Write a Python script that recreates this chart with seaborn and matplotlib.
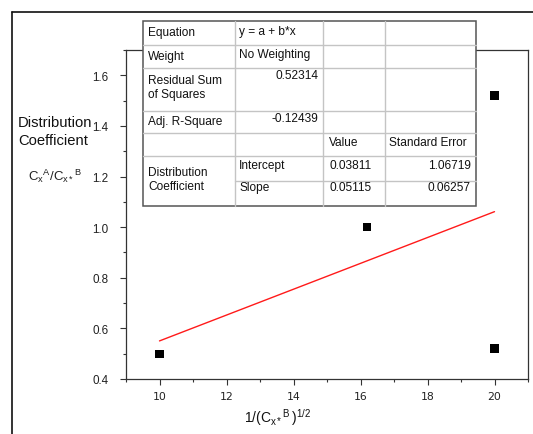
import matplotlib
matplotlib.use("Agg")
import matplotlib.pyplot as plt
import seaborn as sns
import pandas as pd
from matplotlib.lines import Line2D
from matplotlib.patches import Rectangle
from matplotlib.ticker import MultipleLocator

# ---- data ----
x_vals = [10.0, 16.2, 20.0, 20.0]
y_vals = [0.50, 1.00, 1.52, 0.52]
x_ticks = [10, 12, 14, 16, 18, 20]
y_ticks = [0.4, 0.6, 0.8, 1.0, 1.2, 1.4, 1.6]

table_labels = ["Equation", "Weight", "Residual Sum\nof Squares", "Adj. R-Square"]
table_values = ["y = a + b*x", "No Weighting", "0.52314", "-0.12439"]
param_header = ["Value", "Standard Error"]
param_names = ["Intercept", "Slope"]
param_values = ["0.03811", "0.05115"]
param_errors = ["1.06719", "0.06257"]
group_label = "Distribution\nCoefficient"

sns.set_theme(style="white")
plt.rcParams["font.family"] = ["Liberation Sans", "DejaVu Sans"]
plt.rcParams["mathtext.fontset"] = "custom"
plt.rcParams["mathtext.rm"] = "Liberation Sans"
plt.rcParams["mathtext.it"] = "Liberation Sans"

W, H = 533, 435
fig = plt.figure(figsize=(W / 100, H / 100), dpi=100)
fig.patch.set_facecolor("white")

L, R, T, B = 126, 528, 51, 380
ax = fig.add_axes([L / W, 1 - B / H, (R - L) / W, (B - T) / H])
df = pd.DataFrame({"x": x_vals, "y": y_vals})
sns.regplot(data=df, x="x", y="y", ax=ax, ci=None, marker="s",
            scatter_kws=dict(s=36, color="black", edgecolors="none", alpha=1, zorder=3),
            line_kws=dict(color="#ff1a1a", lw=1.0))
ax.set_xlim(9, 21)
ax.set_ylim(0.4, 1.7)
ax.set_xticks(x_ticks)
ax.set_yticks(y_ticks)
ax.set_yticklabels([f"{v:.1f}" for v in y_ticks])
ax.xaxis.set_minor_locator(MultipleLocator(1))
ax.yaxis.set_minor_locator(MultipleLocator(0.1))
ax.tick_params(which="major", direction="out", length=4.5, width=0.8, color="#333333",
               labelcolor="#222222", bottom=True, left=True)
ax.tick_params(axis="x", which="major", pad=4, labelsize=7.8)
ax.tick_params(axis="y", which="major", pad=8, labelsize=8.4)
ax.tick_params(which="minor", direction="out", length=2.5, width=0.8, color="#333333",
               bottom=True, left=True)
for lab in ax.get_xticklabels():
    lab.set_family(["DejaVu Sans"])
ax.set_xlabel("")
ax.set_ylabel("")
for s in ax.spines.values():
    s.set_color("#333333")
    s.set_linewidth(0.9)

# axis titles
fig.text(18 / W, 1 - 132 / H, "Distribution\nCoefficient", fontsize=10.6,
         ha="left", va="center", color="#111111", linespacing=1.42)
fig.text(28 / W, 1 - 176 / H, r"$\mathregular{C_x{}^A/C_{x*}{}^B}$", fontsize=9.5,
         ha="left", va="center", color="#222222")
fig.text(278 / W, 1 - 418 / H, r"$\mathregular{1/(C_{x*}{}^{B}\,)^{1/2}}$", fontsize=10,
         ha="center", va="center", color="#111111")

# overlay for border + table (pixel coordinates)
ov = fig.add_axes([0, 0, 1, 1], zorder=10)
ov.set_xlim(0, W)
ov.set_ylim(H, 0)
ov.axis("off")
ov.patch.set_alpha(0)

# page border
ov.add_line(Line2D([12, 12], [13, H + 2], color="#111111", lw=1.2))
ov.add_line(Line2D([12, W + 2], [13, 13], color="#111111", lw=1.2))

rows = [22, 46, 69, 112, 134, 157, 182, 207]
cols = [143, 235, 323, 385, 476]
ov.add_patch(Rectangle((cols[0], rows[0]), cols[-1] - cols[0], rows[-1] - rows[0],
                       facecolor="white", edgecolor="none"))
inner = "#c4c4c4"
for i, yy in enumerate(rows[1:-1], start=1):
    x0 = cols[0] if i != 6 else cols[1]
    ov.add_line(Line2D([x0, cols[-1]], [yy, yy], color=inner, lw=1.0))
for xx in cols[1:-1]:
    ov.add_line(Line2D([xx, xx], [rows[0], rows[-1]], color=inner, lw=1.0))
ov.add_patch(Rectangle((cols[0], rows[0]), cols[-1] - cols[0], rows[-1] - rows[0],
                       facecolor="none", edgecolor="#555555", lw=1.1))

fs = 8.6
tc = "#111111"
label_y = [33, 57, 88, 122]
value_y = [32, 55, 76, 119]
for lab, ly in zip(table_labels, label_y):
    ov.text(148, ly, lab, fontsize=fs, ha="left", va="center", color=tc, linespacing=1.3)
ov.text(239, value_y[0], table_values[0], fontsize=fs, ha="left", va="center", color=tc)
ov.text(239, value_y[1], table_values[1], fontsize=fs, ha="left", va="center", color=tc)
ov.text(318, value_y[2], table_values[2], fontsize=fs, ha="right", va="center", color=tc)
ov.text(318, value_y[3], table_values[3], fontsize=fs, ha="right", va="center", color=tc)
ov.text(329, 143, param_header[0], fontsize=fs, ha="left", va="center", color=tc)
ov.text(389, 143, param_header[1], fontsize=fs, ha="left", va="center", color=tc)
ov.text(148, 180, group_label, fontsize=fs, ha="left", va="center", color=tc, linespacing=1.3)
for nm, v, e, yy in zip(param_names, param_values, param_errors, [166, 188]):
    ov.text(239, yy, nm, fontsize=fs, ha="left", va="center", color=tc)
    ov.text(329, yy, v, fontsize=fs, ha="left", va="center", color=tc)
    ov.text(471, yy, e, fontsize=fs, ha="right", va="center", color=tc)

fig.savefig("out.png", dpi=100, facecolor="white")
